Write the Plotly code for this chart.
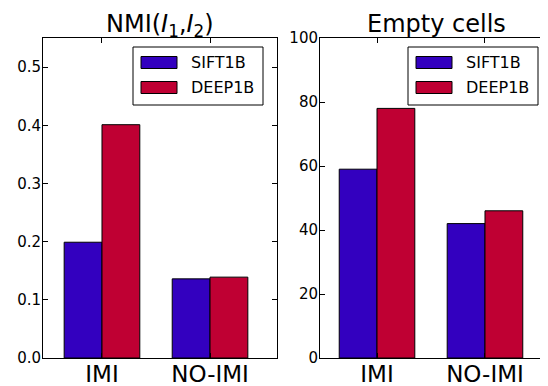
import plotly.graph_objects as go

categories = ["IMI", "NO-IMI"]
series_names = ["SIFT1B", "DEEP1B"]
nmi_sift = [0.199, 0.136]
nmi_deep = [0.401, 0.139]
empty_sift = [59, 42]
empty_deep = [78, 46]
nmi_ticks = [0.0, 0.1, 0.2, 0.3, 0.4, 0.5]
empty_ticks = [0, 20, 40, 60, 80, 100]

colors = ["#3300BF", "#BF0033"]
pos = list(range(len(categories)))
FONT = "DejaVu Sans"
# page body has an 8px margin; figure is sized to fill the rest of the window
OFF = 8
W, H = 548 - OFF, 386 - OFF


def px(x):
    return (x - OFF) / W


def py(y):
    return 1 - (y - OFF) / H


fig = go.Figure()
panels = [
    ("x", "y", [nmi_sift, nmi_deep]),
    ("x2", "y2", [empty_sift, empty_deep]),
]
for xa, ya, vals in panels:
    for i, (name, v) in enumerate(zip(series_names, vals)):
        fig.add_trace(go.Bar(
            x=pos, y=v, name=name, xaxis=xa, yaxis=ya, showlegend=False,
            width=0.35, offset=-0.35 if i == 0 else 0.0,
            marker=dict(color=colors[i], line=dict(color="black", width=1)),
        ))

axis_common = dict(
    showline=True, linecolor="black", linewidth=1, mirror="ticks",
    ticks="inside", ticklen=5, tickcolor="black", showgrid=False,
    zeroline=False, automargin=False,
)
xfont = dict(family=FONT, color="black", size=23)
yfont = dict(family=FONT, color="black", size=15)

fig.update_layout(
    width=W, height=H,
    margin=dict(l=0, r=0, t=0, b=0),
    paper_bgcolor="white", plot_bgcolor="white",
    font=dict(family=FONT, color="black"),
    xaxis=dict(domain=[px(43), px(277)], range=[-0.546, 1.62], anchor="y",
               tickvals=pos, ticktext=categories, tickfont=xfont,
               ticklabelstandoff=-5, **axis_common),
    yaxis=dict(domain=[py(358), py(38)], range=[0, 0.55], anchor="x",
               tickvals=nmi_ticks, tickformat=".1f", tickfont=yfont,
               ticklabelstandoff=-2, **axis_common),
    xaxis2=dict(domain=[px(320), px(546)], range=[-0.528, 1.565], anchor="y2",
                tickvals=pos, ticktext=categories, tickfont=xfont,
                ticklabelstandoff=-5, **axis_common),
    yaxis2=dict(domain=[py(358), py(38)], range=[0, 100], anchor="x2",
                tickvals=empty_ticks, tickfont=yfont,
                ticklabelstandoff=-2, **axis_common),
)

# legends (one per panel), drawn as boxes with swatches and real text
shapes = []
annotations = []
for x0 in (133, 408):
    shapes.append(dict(type="rect", xref="paper", yref="paper",
                       x0=px(x0), x1=px(x0 + 130), y0=py(105), y1=py(47),
                       line=dict(color="black", width=1), fillcolor="white"))
    for i, name in enumerate(series_names):
        yc = 62.5 + 25 * i
        shapes.append(dict(type="rect", xref="paper", yref="paper",
                           x0=px(x0 + 8), x1=px(x0 + 44), y0=py(yc + 6), y1=py(yc - 6),
                           line=dict(color="black", width=1), fillcolor=colors[i]))
        annotations.append(dict(text=name, x=px(x0 + 56), y=py(yc), xref="paper", yref="paper",
                                xanchor="left", yanchor="middle", showarrow=False,
                                font=dict(size=16, family=FONT, color="black")))

annotations += [
    dict(text="NMI(<i>I</i><sub>1</sub>,<i>I</i><sub>2</sub>)", x=px(160), y=py(25),
         xref="paper", yref="paper", xanchor="center", yanchor="middle",
         showarrow=False, font=dict(size=24, family=FONT, color="black")),
    dict(text="Empty cells", x=px(436), y=py(24),
         xref="paper", yref="paper", xanchor="center", yanchor="middle",
         showarrow=False, font=dict(size=24, family=FONT, color="black")),
]
fig.update_layout(shapes=shapes, annotations=annotations)

fig.write_html("out.html")
